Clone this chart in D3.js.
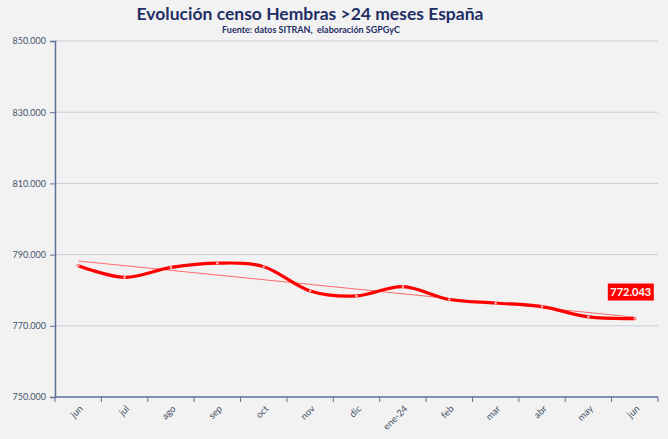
<!DOCTYPE html>
<html><head><meta charset="utf-8">
<script src="https://cdn.jsdelivr.net/npm/d3@7"></script>
<style>body{margin:0;background:#f2f2f2}svg{display:block}</style>
</head><body>
<script>
const categories = ["jun","jul","ago","sep","oct","nov","dic","ene-24","feb","mar","abr","may","jun"];
const values = [786900, 783600, 786400, 787600, 786600, 779800, 778400, 781000, 777400, 776400, 775400, 772500, 772043];
const yTicks = [750000, 770000, 790000, 810000, 830000, 850000];
const title = "Evolución censo Hembras >24 meses España";
const subtitle = "Fuente: datos SITRAN,  elaboración SGPGyC";
const lastLabel = "772.043";

(function () {
const W = 668, H = 439;
const svg = d3.select("body").append("svg").attr("width", W).attr("height", H);

svg.append("rect").attr("width", W).attr("height", H).attr("fill", "#f2f2f2");

const pL = 55, pR = 658, pT = 41, pB = 397;
const x = d3.scaleBand().domain(d3.range(categories.length)).range([pL, pR]).padding(0);
const y = d3.scaleLinear().domain([750000, 850000]).range([pB, pT]);
const fmt = v => d3.format(",.0f")(v).replace(/,/g, ".");

svg.append("g").selectAll("line").data(yTicks.slice(1)).join("line")
  .attr("x1", pL).attr("x2", pR)
  .attr("y1", d => y(d)).attr("y2", d => y(d))
  .attr("stroke", "#c5cddb").attr("stroke-width", 1);

const yAxis = svg.append("g").attr("transform", `translate(${pL},0)`)
  .call(d3.axisLeft(y).tickValues(yTicks).tickFormat(fmt).tickSize(5).tickPadding(4));
yAxis.select(".domain").attr("stroke", "#5a6f99").attr("stroke-width", 1.5);
yAxis.selectAll(".tick line").attr("stroke", "#5a6f99");
yAxis.selectAll("text").attr("fill", "#44546a").style("font-family", "Lato, 'Open Sans', sans-serif").style("font-size", "9px");

const xAxis = svg.append("g").attr("transform", `translate(0,${pB})`);
xAxis.append("line").attr("x1", pL).attr("x2", pR).attr("y1", 0).attr("y2", 0)
  .attr("stroke", "#5a6f99").attr("stroke-width", 1.5);
const boundaries = d3.range(categories.length + 1).map(i => i < categories.length ? x(i) : x(categories.length - 1) + x.bandwidth());
xAxis.selectAll("line.tk").data(boundaries).join("line").attr("class", "tk")
  .attr("x1", d => d).attr("x2", d => d).attr("y1", 0).attr("y2", 5)
  .attr("stroke", "#5a6f99").attr("stroke-width", 1);
xAxis.selectAll("text").data(categories).join("text")
  .attr("transform", (d, i) => `translate(${x(i) + x.bandwidth() / 2 + 3},${10}) rotate(-45)`)
  .attr("text-anchor", "end").attr("dy", "0.35em")
  .attr("fill", "#44546a").style("font-family", "Lato, 'Open Sans', sans-serif").style("font-size", "9.5px")
  .text(d => d);

const n = values.length;
const mx = d3.mean(d3.range(n)), my = d3.mean(values);
const sxy = d3.sum(values, (v, i) => (i - mx) * (v - my));
const sxx = d3.sum(d3.range(n), i => (i - mx) * (i - mx));
const slope = sxy / sxx, icpt = my - slope * mx;
const cx = i => x(i) + x.bandwidth() / 2;
svg.append("line")
  .attr("x1", cx(0)).attr("y1", y(icpt))
  .attr("x2", cx(n - 1)).attr("y2", y(icpt + slope * (n - 1)))
  .attr("stroke", "#ff5a5a").attr("stroke-width", 0.9);

const line = d3.line().x((d, i) => cx(i)).y(d => y(d)).curve(d3.curveCardinal.tension(0));
svg.append("path").datum(values).attr("d", line)
  .attr("fill", "none").attr("stroke", "#ff0000").attr("stroke-width", 3.2).attr("stroke-linecap", "round");

svg.append("g").selectAll("circle").data(values).join("circle")
  .attr("cx", (d, i) => cx(i)).attr("cy", d => y(d)).attr("r", 1.3)
  .attr("fill", "#ffb0b0");

const lx = cx(n - 1) - 4, ly = y(values[n - 1]) - 26;
const lbl = svg.append("g");
lbl.append("rect").attr("x", lx - 23).attr("y", ly - 9).attr("width", 46).attr("height", 17).attr("fill", "#ff0000");
lbl.append("text").attr("x", lx).attr("y", ly).attr("dy", "0.35em").attr("text-anchor", "middle")
  .attr("fill", "#fff").style("font-family", "Lato, 'Open Sans', sans-serif").style("font-weight", "700").style("font-size", "11px")
  .text(lastLabel);

svg.append("text").attr("x", 310).attr("y", 20).attr("text-anchor", "middle")
  .attr("fill", "#1f2f66").style("font-family", "Lato, 'Open Sans', sans-serif").style("font-weight", "700").style("font-size", "17.5px")
  .text(title);
svg.append("text").attr("x", 311).attr("y", 33).attr("text-anchor", "middle")
  .attr("fill", "#1f2f66").style("font-family", "Lato, 'Open Sans', sans-serif").style("font-weight", "700").style("font-size", "9px")
  .style("white-space", "pre")
  .text(subtitle);
})();
</script>
</body></html>
